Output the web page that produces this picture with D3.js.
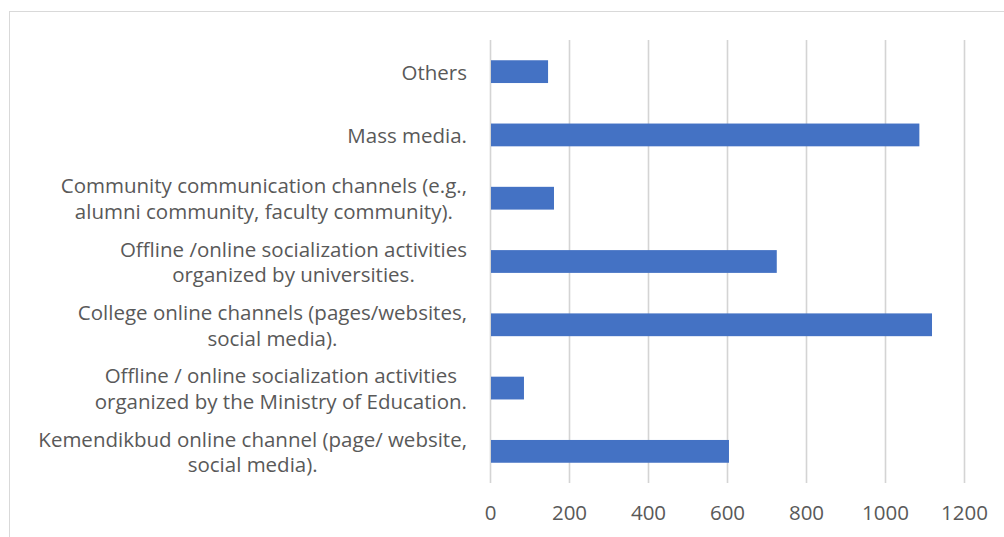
<!DOCTYPE html>
<html>
<head>
<meta charset="utf-8">
<script src="https://cdn.jsdelivr.net/npm/d3@7"></script>
<style>
  html, body { margin: 0; padding: 0; background: #fff; }
  svg { display: block; }
  text { font-family: "Open Sans", Lato, sans-serif; fill: #595959; }
</style>
</head>
<body>
<svg id="chart" width="1004" height="537"></svg>
<script>
// Information channels, listed top to bottom; each entry holds the label's lines
const categories = [
  ["Others"],
  ["Mass media."],
  ["Community communication channels (e.g.,", "alumni community, faculty community)."],
  ["Offline /online socialization activities", "organized by universities."],
  ["College online channels (pages/websites,", "social media)."],
  ["Offline / online socialization activities ", "organized by the Ministry of Education."],
  ["Kemendikbud online channel (page/ website,", "social media)."]
];
const values = [147, 1087, 162, 726, 1119, 86, 605];
const tickValues = [0, 200, 400, 600, 800, 1000, 1200];

const svg = d3.select("#chart");
const W = 1004, H = 537;
const plot = { left: 490, right: 964, top: 40, bottom: 483 };

// Chart frame
svg.append("rect")
  .attr("x", 9.5).attr("y", 11.5)
  .attr("width", W).attr("height", H)
  .attr("fill", "none").attr("stroke", "#d9d9d9").attr("stroke-width", 1);

const x = d3.scaleLinear().domain([0, 1200]).range([plot.left, plot.right]);
const y = d3.scaleBand()
  .domain(d3.range(categories.length))
  .range([plot.top, plot.bottom])
  .paddingInner(0.64).paddingOuter(0.32);

// Vertical gridlines
svg.append("g")
  .selectAll("line")
  .data(tickValues)
  .join("line")
  .attr("x1", d => Math.round(x(d)) + 0.5).attr("x2", d => Math.round(x(d)) + 0.5)
  .attr("y1", plot.top).attr("y2", plot.bottom)
  .attr("stroke", "#d4d4d4").attr("stroke-width", 1.6);

// Bars
svg.append("g")
  .selectAll("rect")
  .data(values)
  .join("rect")
  .attr("x", x(0) + 1)
  .attr("y", (d, i) => y(i))
  .attr("width", d => x(d) - x(0) - 1)
  .attr("height", y.bandwidth())
  .attr("fill", "#4472c4");

// X axis tick labels
const xAxis = d3.axisBottom(x).tickValues(tickValues).tickFormat(d3.format("d"))
  .tickSize(0).tickPadding(0);
const gx = svg.append("g").attr("transform", `translate(0, ${plot.bottom + 22})`).call(xAxis);
gx.select(".domain").remove();
gx.selectAll("text")
  .attr("font-family", "'Open Sans', Lato, sans-serif")
  .attr("font-size", 20.5).attr("fill", "#595959");

// Category labels: lines centred on each other, the block aligned to the axis
const fontSize = 20.5, lineH = 25.5, rightEdge = 467;
const labels = svg.append("g").attr("font-size", fontSize);
categories.forEach((lines, i) => {
  const cy = y(i) + y.bandwidth() / 2;
  const g = labels.append("g");
  const texts = lines.map((ln, k) => g.append("text")
    .attr("text-anchor", "middle")
    .attr("dominant-baseline", "central")
    .attr("y", cy + (k - (lines.length - 1) / 2) * lineH)
    .text(ln));
  const widest = d3.max(texts, t => t.node().getComputedTextLength());
  texts.forEach(t => t.attr("x", rightEdge - widest / 2));
});
</script>
</body>
</html>
